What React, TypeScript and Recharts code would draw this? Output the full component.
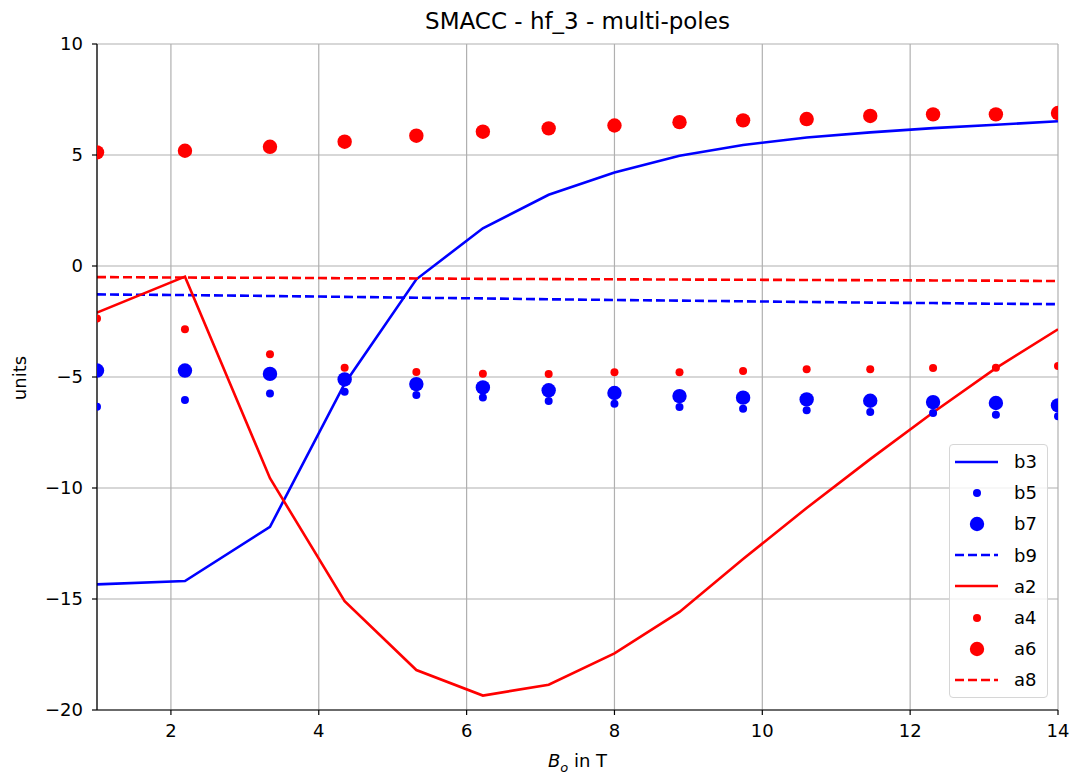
import React from "react";
import { ComposedChart, Line, XAxis, YAxis, CartesianGrid } from "recharts";

const bField = [1.0, 2.19, 3.34, 4.35, 5.32, 6.22, 7.11, 8.0, 8.88, 9.74, 10.6, 11.46, 12.31, 13.16, 14.0];
const b3 = [-14.34, -14.19, -11.75, -5.3, -0.6, 1.7, 3.21, 4.21, 4.97, 5.45, 5.79, 6.02, 6.21, 6.36, 6.52];
const b5 = [-6.34, -6.04, -5.74, -5.66, -5.81, -5.92, -6.08, -6.2, -6.35, -6.43, -6.5, -6.58, -6.62, -6.7, -6.77];
const b7 = [-4.71, -4.71, -4.86, -5.11, -5.32, -5.47, -5.6, -5.72, -5.86, -5.93, -6.01, -6.07, -6.13, -6.17, -6.28];
const b9 = [-1.28, -1.31, -1.35, -1.39, -1.43, -1.46, -1.5, -1.53, -1.56, -1.59, -1.62, -1.65, -1.67, -1.7, -1.72];
const a2 = [-2.1, -0.48, -9.56, -15.1, -18.2, -19.35, -18.86, -17.45, -15.58, -13.2, -10.9, -8.7, -6.6, -4.6, -2.85];
const a4 = [-2.36, -2.85, -3.98, -4.58, -4.77, -4.85, -4.86, -4.79, -4.79, -4.73, -4.65, -4.65, -4.59, -4.58, -4.5];
const a6 = [5.12, 5.19, 5.37, 5.6, 5.87, 6.05, 6.2, 6.33, 6.48, 6.56, 6.62, 6.76, 6.83, 6.83, 6.89];
const a8 = [-0.5, -0.52, -0.53, -0.55, -0.56, -0.58, -0.59, -0.6, -0.61, -0.62, -0.63, -0.64, -0.65, -0.66, -0.68];

const xTicks = [2, 4, 6, 8, 10, 12, 14];
const yTicks = [-20, -15, -10, -5, 0, 5, 10];

const BLUE = "#0000ff";
const RED = "#ff0000";
const FONT = "'DejaVu Sans', sans-serif";
const LW = 2.6;
const DASH = "9 4";

type Kind = "line" | "dash" | "small" | "big";

const series: { key: string; color: string; kind: Kind; values: number[] }[] = [
  { key: "b3", color: BLUE, kind: "line", values: b3 },
  { key: "b5", color: BLUE, kind: "small", values: b5 },
  { key: "b7", color: BLUE, kind: "big", values: b7 },
  { key: "b9", color: BLUE, kind: "dash", values: b9 },
  { key: "a2", color: RED, kind: "line", values: a2 },
  { key: "a4", color: RED, kind: "small", values: a4 },
  { key: "a6", color: RED, kind: "big", values: a6 },
  { key: "a8", color: RED, kind: "dash", values: a8 },
];

const rows = bField.map((x, i) => {
  const r: Record<string, number> = { x };
  series.forEach((s) => (r[s.key] = s.values[i]));
  return r;
});

const tickStyle = { fill: "#000", fontSize: 18, fontFamily: FONT };
const minus = (v: number) => String(v).replace("-", "\u2212");

// plot area box; markers are drawn in a nested svg of this size so they get cut at the spines
const PLOT = { x: 97, y: 44, w: 961, h: 666 };

function LegendBox() {
  return (
    <div
      style={{
        position: "absolute",
        left: 949,
        top: 444,
        width: 99,
        height: 254,
        border: "1px solid #d6d6d6",
        borderRadius: 4,
        background: "rgba(255,255,255,0.8)",
        boxSizing: "border-box",
        fontFamily: FONT,
        fontSize: 18,
        paddingTop: 1,
      }}
    >
      {series.map((s) => (
        <div key={s.key} style={{ height: 31.2, display: "flex", alignItems: "center" }}>
          <svg width={60} height={20} style={{ marginLeft: 5 }}>
            {s.kind === "line" && <line x1={0} y1={10} x2={43} y2={10} stroke={s.color} strokeWidth={LW} />}
            {s.kind === "dash" && (
              <line x1={0} y1={10} x2={43} y2={10} stroke={s.color} strokeWidth={LW} strokeDasharray={DASH} />
            )}
            {s.kind === "small" && <circle cx={22} cy={10} r={4} fill={s.color} />}
            {s.kind === "big" && <circle cx={22} cy={10} r={7.2} fill={s.color} />}
          </svg>
          <span style={{ marginLeft: -1 }}>{s.key}</span>
        </div>
      ))}
    </div>
  );
}

export default function App() {
  return (
    <div style={{ position: "absolute", left: 0, top: 0, width: 1073, height: 775, background: "#fff" }}>
      <div
        style={{
          position: "absolute",
          top: 8,
          left: 97,
          width: 961,
          textAlign: "center",
          fontFamily: FONT,
          fontSize: 23,
        }}
      >
        SMACC - hf_3 - multi-poles
      </div>
      <ComposedChart width={1073} height={775} data={rows} margin={{ top: 44, right: 15, bottom: 35, left: 37 }}>
        <CartesianGrid stroke="#b0b0b0" strokeWidth={1.2} />
        <XAxis
          dataKey="x"
          type="number"
          domain={[1, 14]}
          ticks={xTicks}
          allowDataOverflow
          height={30}
          tickSize={5}
          tickMargin={9}
          tick={tickStyle}
          stroke="#000"
          strokeWidth={1.2}
          tickLine={{ stroke: "#000" }}
        />
        <XAxis xAxisId="top" orientation="top" type="number" domain={[1, 14]} tick={false} tickLine={false} height={0} stroke="#000" strokeWidth={1.2} />
        <YAxis
          type="number"
          domain={[-20, 10]}
          ticks={yTicks}
          allowDataOverflow
          width={60}
          tickSize={5}
          tickMargin={9}
          tick={tickStyle}
          tickFormatter={minus}
          stroke="#000"
          strokeWidth={1.2}
          tickLine={{ stroke: "#000" }}
        />
        <YAxis yAxisId="right" orientation="right" type="number" domain={[-20, 10]} tick={false} tickLine={false} width={0} stroke="#000" strokeWidth={1.2} />
        {series.map((s) => {
          if (s.kind === "line" || s.kind === "dash") {
            return (
              <Line
                key={s.key}
                dataKey={s.key}
                type="linear"
                stroke={s.color}
                strokeWidth={LW}
                strokeDasharray={s.kind === "dash" ? DASH : undefined}
                dot={false}
                activeDot={false}
                isAnimationActive={false}
              />
            );
          }
          const r = s.kind === "big" ? 7.2 : 4;
          return (
            <Line
              key={s.key}
              dataKey={s.key}
              type="linear"
              stroke="none"
              strokeWidth={0}
              dot={(p: any) => (
                <svg key={p.index} x={PLOT.x} y={PLOT.y} width={PLOT.w} height={PLOT.h} overflow="hidden">
                  <circle cx={p.cx - PLOT.x} cy={p.cy - PLOT.y} r={r} fill={s.color} />
                </svg>
              )}
              activeDot={false}
              isAnimationActive={false}
            />
          );
        })}
      </ComposedChart>
      <div
        style={{
          position: "absolute",
          top: 750,
          left: 97,
          width: 961,
          textAlign: "center",
          fontFamily: FONT,
          fontSize: 18,
        }}
      >
        <i>B</i>
        <sub style={{ fontSize: 13, fontStyle: "italic" }}>o</sub> in T
      </div>
      <div
        style={{
          position: "absolute",
          left: 19,
          top: 378,
          transform: "translate(-50%, -50%) rotate(-90deg)",
          fontFamily: FONT,
          fontSize: 18,
        }}
      >
        units
      </div>
      <LegendBox />
    </div>
  );
}
